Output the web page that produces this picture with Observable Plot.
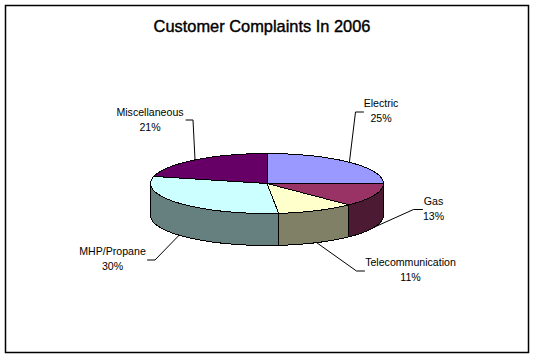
<!DOCTYPE html>
<html>
<head>
<meta charset="utf-8">
<style>html,body{margin:0;padding:0;background:#fff}svg{display:block}</style>
<script src="https://cdn.jsdelivr.net/npm/d3@7"></script>
<script src="https://cdn.jsdelivr.net/npm/@observablehq/plot@0.6"></script>
</head>
<body>
<div id="chart"></div>
<script>
const categories = ["Electric", "Gas", "Telecommunication", "MHP/Propane", "Miscellaneous"];
const values = [25, 12.6, 10.8, 30.4, 21.2];
const topColors = ["#9999ff", "#993366", "#ffffcc", "#ccffff", "#660066"];
const sideColors = ["#4d4d80", "#4d1a33", "#808066", "#668080", "#330033"];
const titleText = "Customer Complaints In 2006";

// pie geometry
const cx = 266.5, cy = 183, rx = 116.5, ry = 30, depth = 32;
// callouts
const elbowNear = [[355, 111.5], [413, 209], [356, 270.5], [154.5, 259.5], [192.5, 119.5]];
const elbowFar = [[363, 111.5], [422, 209], [364, 270.5], [147, 259.5], [185.5, 119.5]];
const labelAt = [[380.5, 109.5], [433, 207.5], [410, 268.5], [112, 257.5], [149.5, 118]];

const total = d3.sum(values);
const cum = d3.cumsum(values);
const slices = categories.map((name, i) => {
  const a1 = cum[i] / total * 2 * Math.PI;
  const a0 = (cum[i] - values[i]) / total * 2 * Math.PI;
  return {name, i, a0, a1, pct: Math.round(values[i] / total * 100)};
});
const pt = (a, dz = 0) => [cx + rx * Math.sin(a), cy - ry * Math.cos(a) + dz];
const arc = (a0, a1, dz = 0) => {
  const n = Math.max(2, Math.ceil((a1 - a0) / 0.02));
  return d3.range(n + 1).map(k => pt(a0 + (a1 - a0) * k / n, dz));
};

const lineOpts = {x: d => d[0], y: d => d[1], stroke: "#000", strokeWidth: 1, curve: "linear", shapeRendering: "crispEdges"};
const marks = [Plot.frame({insetLeft: 5, insetTop: 5, insetRight: 6, insetBottom: 5, stroke: "#000", strokeWidth: 1.5})];

// leader lines first: the pie covers their inner ends
slices.forEach(s => {
  const mid = (s.a0 + s.a1) / 2;
  const front = Math.cos(mid) < 0;
  const anchor = pt(mid, front ? depth : 0);
  marks.push(Plot.line([anchor, elbowNear[s.i], elbowFar[s.i]], {...lineOpts, shapeRendering: "auto"}));
});

// sides: the part of each slice on the front half
slices.forEach(s => {
  const a0 = Math.max(s.a0, Math.PI / 2), a1 = Math.min(s.a1, 3 * Math.PI / 2);
  if (a1 <= a0) return;
  const poly = [...arc(a0, a1), ...arc(a0, a1, depth).reverse()];
  poly.push(poly[0]);
  marks.push(Plot.line(poly, {...lineOpts, fill: sideColors[s.i]}));
});

// top faces
slices.forEach(s => {
  const poly = [[cx, cy], ...arc(s.a0, s.a1), [cx, cy]];
  marks.push(Plot.line(poly, {...lineOpts, fill: topColors[s.i]}));
});

// labels
const labelRows = slices.map(s => ({x: labelAt[s.i][0], y: labelAt[s.i][1], text: `${s.name}\n${s.pct}%`}));
marks.push(Plot.text(labelRows, {x: "x", y: "y", text: "text", fontSize: 10.6, lineHeight: 1.41, fill: "#000", textAnchor: "middle", lineAnchor: "middle"}));
marks.push(Plot.text([titleText], {x: () => 261.5, y: () => 26.5, text: d => d, fontSize: 16.4, fill: "#000", stroke: "#000", strokeWidth: 0.4, textAnchor: "middle", lineAnchor: "middle"}));

const chart = Plot.plot({
  width: 534, height: 357,
  marginTop: 0, marginRight: 0, marginBottom: 0, marginLeft: 0,
  style: {fontFamily: "'Liberation Sans', Arial, sans-serif", background: "#fff"},
  x: {domain: [0, 534], range: [0, 534], axis: null},
  y: {domain: [0, 357], range: [0, 357], axis: null},
  marks
});
document.getElementById("chart").appendChild(chart);
</script>
</body>
</html>
